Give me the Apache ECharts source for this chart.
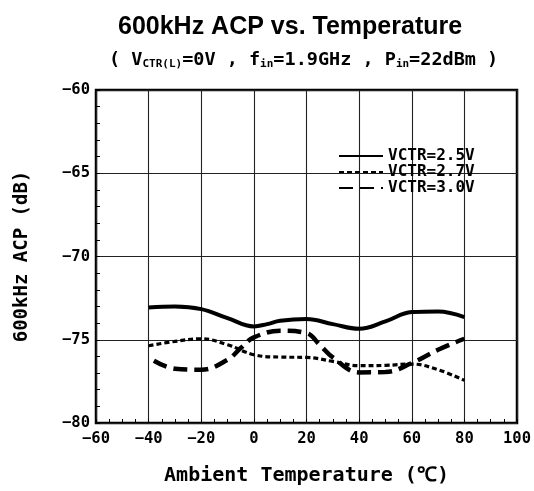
<!DOCTYPE html>
<html>
<head>
<meta charset="utf-8">
<script src="https://cdn.jsdelivr.net/npm/echarts@6/dist/echarts.min.js"></script>
<style>
html,body{margin:0;padding:0;background:#fff;}
#chart{width:534px;height:491px;}
</style>
</head>
<body>
<div id="chart"></div>
<script>
// Data
var seriesNames = ['VCTR=2.5V', 'VCTR=2.7V', 'VCTR=3.0V'];
var temp25 = [-40, -30, -20, -10, 0, 5, 10, 20, 30, 40, 50, 60, 70, 80];
var acp25  = [-73.06, -73.0, -73.16, -73.7, -74.2, -74.06, -73.86, -73.76, -74.06, -74.34, -73.9, -73.34, -73.3, -73.64];
var temp27 = [-40, -30, -20, -10, 0, 10, 20, 30, 40, 50, 60, 70, 80];
var acp27  = [-75.36, -75.1, -74.94, -75.3, -75.9, -76.04, -76.06, -76.3, -76.56, -76.54, -76.46, -76.8, -77.44];
var temp30 = [-38, -30, -20, -10, -5, 0, 10, 20, 25, 30, 40, 50, 60, 70, 80];
var acp30  = [-76.26, -76.74, -76.8, -76.2, -75.5, -74.86, -74.46, -74.6, -75.3, -76.06, -76.96, -76.94, -76.4, -75.6, -74.94];
var xTicks = [-60, -40, -20, 0, 20, 40, 60, 80, 100];
var yTicks = [-80, -75, -70, -65, -60];

function pairs(xs, ys) { return xs.map(function (x, i) { return [x, ys[i]]; }); }
function fmt(v) { return String(v).replace('-', '\u2212'); }

var mono = '"DejaVu Sans Mono", monospace';
var chart = echarts.init(document.getElementById('chart'), null, {renderer: 'canvas'});
chart.setOption({
  backgroundColor: '#fff',
  animation: false,
  title: [{
    text: '600kHz ACP vs. Temperature',
    left: 113, top: 10,
    textStyle: {fontFamily: '"Liberation Sans", Arial, sans-serif', fontWeight: 'bold', fontSize: 25, color: '#000'}
  }, {
    text: '( V{s|CTR(L)}=0V , f{s|in}=1.9GHz , P{s|in}=22dBm )',
    left: 104, top: 46,
    textStyle: {
      fontFamily: mono, fontWeight: 'bold', fontSize: 18.5, color: '#000',
      rich: {s: {fontFamily: mono, fontWeight: 'bold', fontSize: 11, color: '#000', verticalAlign: 'bottom', padding: [8, 0, 0, 0]}}
    }
  }],
  grid: {left: 96, right: 17, top: 90, bottom: 65, show: true, borderColor: '#000', borderWidth: 2.5, containLabel: false},
  legend: {
    orient: 'vertical', left: 333, top: 143,
    itemWidth: 44, itemHeight: 14, itemGap: 0,
    data: seriesNames,
    itemStyle: {opacity: 0},
    textStyle: {fontFamily: mono, fontWeight: 'bold', fontSize: 16, lineHeight: 14, color: '#000'}
  },
  xAxis: {
    type: 'value', min: xTicks[0], max: xTicks[xTicks.length - 1], interval: 20,
    name: 'Ambient Temperature (℃)', nameLocation: 'middle', nameGap: 43,
    nameTextStyle: {fontFamily: mono, fontWeight: 'bold', fontSize: 20, color: '#000'},
    axisLine: {show: false, onZero: false},
    axisTick: {show: true, inside: true, length: 4, lineStyle: {color: '#000'}},
    minorTick: {show: true, splitNumber: 4, length: 4, lineStyle: {color: '#000', width: 1}},
    axisLabel: {fontFamily: mono, fontWeight: 'bold', fontSize: 15.5, color: '#000', margin: 8, formatter: fmt},
    splitLine: {show: true, lineStyle: {color: '#222', width: 1.1}}
  },
  yAxis: {
    type: 'value', min: yTicks[0], max: yTicks[yTicks.length - 1], interval: 5,
    name: '600kHz ACP (dB)', nameLocation: 'middle', nameGap: 64, nameRotate: 90,
    nameTextStyle: {fontFamily: mono, fontWeight: 'bold', fontSize: 19, color: '#000'},
    axisLine: {show: false, onZero: false},
    axisTick: {show: true, inside: true, length: 4, lineStyle: {color: '#000'}},
    minorTick: {show: true, splitNumber: 5, length: 4, lineStyle: {color: '#000', width: 1}},
    axisLabel: {fontFamily: mono, fontWeight: 'bold', fontSize: 15.5, color: '#000', margin: 6, formatter: fmt},
    splitLine: {show: true, lineStyle: {color: '#222', width: 1.1}}
  },
  series: [{
    name: seriesNames[0], type: 'line', smooth: 0.4, symbol: 'none',
    lineStyle: {color: '#000', width: 4, type: 'solid'}, itemStyle: {color: '#000'},
    data: pairs(temp25, acp25)
  }, {
    name: seriesNames[1], type: 'line', smooth: 0.4, symbol: 'none',
    lineStyle: {color: '#000', width: 3.2, type: [5, 3]}, itemStyle: {color: '#000'},
    data: pairs(temp27, acp27)
  }, {
    name: seriesNames[2], type: 'line', smooth: 0.4, symbol: 'none',
    lineStyle: {color: '#000', width: 4.5, type: [14, 7]}, itemStyle: {color: '#000'},
    data: pairs(temp30, acp30)
  }]
});
</script>
</body>
</html>
